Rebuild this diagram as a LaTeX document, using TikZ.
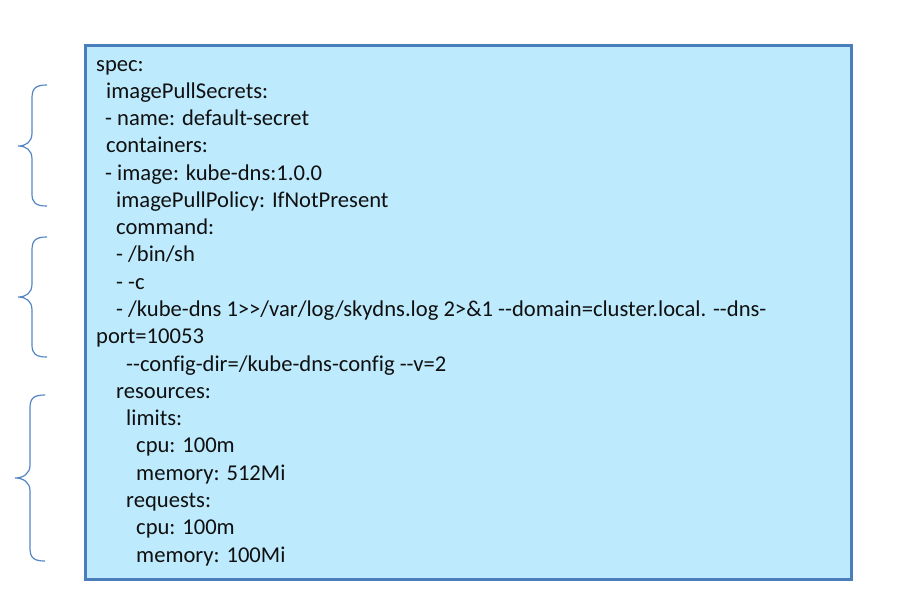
\documentclass[tikz,border=0pt]{standalone}
\usepackage{fontspec}
\setmainfont{Carlito}[Ligatures={TeXOff,CommonOff}]
\definecolor{boxfill}{HTML}{BDEBFD}
\definecolor{boxline}{HTML}{4A7EBB}
\definecolor{bracecol}{HTML}{5585C5}
\definecolor{txt}{HTML}{101010}
\begin{document}
\begin{tikzpicture}[x=1pt,y=-1pt,
  codeline/.style={anchor=base west,inner sep=0pt,font=\fontsize{22.6}{27}\selectfont,text=txt},
  bracestyle/.style={draw=bracecol,line width=1.2pt}]
\useasboundingbox (0,0) rectangle (906,613);
\node[draw=boxline,fill=boxfill,line width=3pt,minimum width=766pt,minimum height=534pt,anchor=north west,inner sep=0pt] (box) at (84,44) {};
\def\lh{27.28}
\node[codeline] (l1) at (96,71) {spec:};
\node[codeline] (l2) at (106,71+1*\lh) {imagePullSecrets:};
\node[codeline] (l3) at (105,71+2*\lh) {- name: default-secret};
\node[codeline] (l4) at (106,71+3*\lh) {containers:};
\node[codeline] (l5) at (105,71+4*\lh) {- image: kube-dns:1.0.0};
\node[codeline] (l6) at (116,71+5*\lh) {imagePullPolicy: IfNotPresent};
\node[codeline] (l7) at (116,71+6*\lh) {command:};
\node[codeline] (l8) at (116,71+7*\lh) {- /bin/sh};
\node[codeline] (l9) at (116,71+8*\lh) {- -c};
\node[codeline] (l10) at (116,71+9*\lh) {- /kube-dns 1>>/var/log/skydns.log 2>\&1 --domain=cluster.local. --dns-};
\node[codeline] (l11) at (96,71+10*\lh) {port=10053};
\node[codeline] (l12) at (126,71+11*\lh) {--config-dir=/kube-dns-config --v=2};
\node[codeline] (l13) at (116,71+12*\lh) {resources:};
\node[codeline] (l14) at (126,71+13*\lh) {limits:};
\node[codeline] (l15) at (136,71+14*\lh) {cpu: 100m};
\node[codeline] (l16) at (136,71+15*\lh) {memory: 512Mi};
\node[codeline] (l17) at (126,71+16*\lh) {requests:};
\node[codeline] (l18) at (136,71+17*\lh) {cpu: 100m};
\node[codeline] (l19) at (136,71+18*\lh) {memory: 100Mi};
% braces
\draw[bracestyle] (47,85) .. controls (36,85) and (32,88) .. (32,98) -- (32,133)
  .. controls (32,142) and (26,146) .. (18,146) .. controls (26,146) and (32,150) .. (32,159)
  -- (32,194) .. controls (32,203) and (36,206) .. (47,206);
\draw[bracestyle] (47,237) .. controls (36,237) and (32,240) .. (32,250) -- (32,284)
  .. controls (32,293) and (26,297) .. (18,297) .. controls (26,297) and (32,301) .. (32,310)
  -- (32,345) .. controls (32,354) and (36,357) .. (47,357);
\draw[bracestyle] (45,395) .. controls (34,395) and (30,398) .. (30,408) -- (30,465)
  .. controls (30,474) and (23,478) .. (15,478) .. controls (23,478) and (30,482) .. (30,491)
  -- (30,548) .. controls (30,558) and (34,561) .. (45,561);
\end{tikzpicture}
\end{document}
